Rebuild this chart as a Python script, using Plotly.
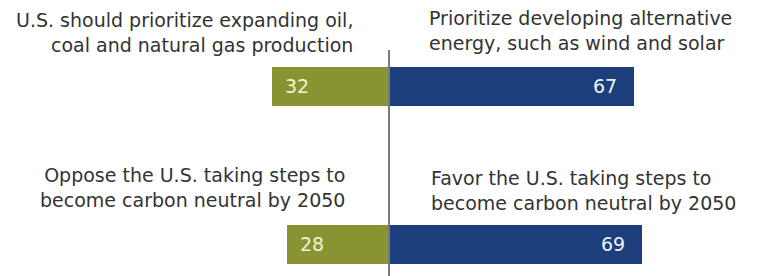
import plotly.graph_objects as go

# Data
left_labels = [
    "U.S. should prioritize expanding oil,<br>coal and natural gas production",
    "Oppose the U.S. taking steps to<br>become carbon neutral by 2050",
]
right_labels = [
    "Prioritize developing alternative<br>energy, such as wind and solar",
    "Favor the U.S. taking steps to<br>become carbon neutral by 2050",
]
left_values = [32, 28]
right_values = [67, 69]
positions = [0, 1]

W, H = 760, 276
GREEN = "#8a9331"
BLUE = "#1c3e7b"
TEXT = "#333333"
FONT = "DejaVu Sans, Verdana, sans-serif"

zero_px = 389.0
px_per_unit = 3.66
x_range = [-zero_px / px_per_unit, (W - zero_px) / px_per_unit]

row_px = 158.0
first_center = 86.0
y_top = -first_center / row_px
y_bottom = (H - first_center) / row_px
bar_w = 39.0 / row_px

fig = go.Figure()
fig.add_trace(go.Bar(
    y=positions, x=[-v for v in left_values], orientation="h",
    marker=dict(color=GREEN, line=dict(width=0)), width=bar_w,
    hoverinfo="skip", showlegend=False,
))
fig.add_trace(go.Bar(
    y=positions, x=right_values, orientation="h",
    marker=dict(color=BLUE, line=dict(width=0)), width=bar_w,
    hoverinfo="skip", showlegend=False,
))

annotations = []
for p, v in zip(positions, left_values):
    annotations.append(dict(
        x=-v, y=p, xref="x", yref="y", text=str(v), showarrow=False,
        xanchor="left", yanchor="middle", xshift=11,
        font=dict(family=FONT, size=19, color="#f3f0d6"),
    ))
for p, v in zip(positions, right_values):
    annotations.append(dict(
        x=v, y=p, xref="x", yref="y", text=str(v), showarrow=False,
        xanchor="right", yanchor="middle", xshift=-15,
        font=dict(family=FONT, size=19, color="#eef2fa"),
    ))

left_label_pos = [(355, 32.5), (347, 187)]
right_label_pos = [(427, 30), (429, 190)]
for lbl, (xp, yp) in zip(left_labels, left_label_pos):
    annotations.append(dict(
        x=xp / W, y=1 - yp / H, xref="paper", yref="paper", text=lbl,
        showarrow=False, xanchor="right", yanchor="middle", align="right",
        font=dict(family=FONT, size=19, color=TEXT),
    ))
for lbl, (xp, yp) in zip(right_labels, right_label_pos):
    annotations.append(dict(
        x=xp / W, y=1 - yp / H, xref="paper", yref="paper", text=lbl,
        showarrow=False, xanchor="left", yanchor="middle", align="left",
        font=dict(family=FONT, size=19, color=TEXT),
    ))

fig.update_layout(
    width=W, height=H,
    margin=dict(l=0, r=0, t=0, b=0),
    paper_bgcolor="white", plot_bgcolor="white",
    barmode="relative",
    bargap=0,
    xaxis=dict(range=x_range, visible=False, fixedrange=True),
    yaxis=dict(range=[y_bottom, y_top], visible=False, fixedrange=True),
    annotations=annotations,
    shapes=[dict(
        type="line", xref="x", yref="paper", x0=0, x1=0,
        y0=0, y1=1 - 50 / H, layer="above",
        line=dict(color="#7a7a7a", width=2),
    )],
)

fig.write_html(
    "out.html",
    config={"displayModeBar": False},
    post_script="document.body.style.margin='0';document.body.style.overflow='hidden';",
)
